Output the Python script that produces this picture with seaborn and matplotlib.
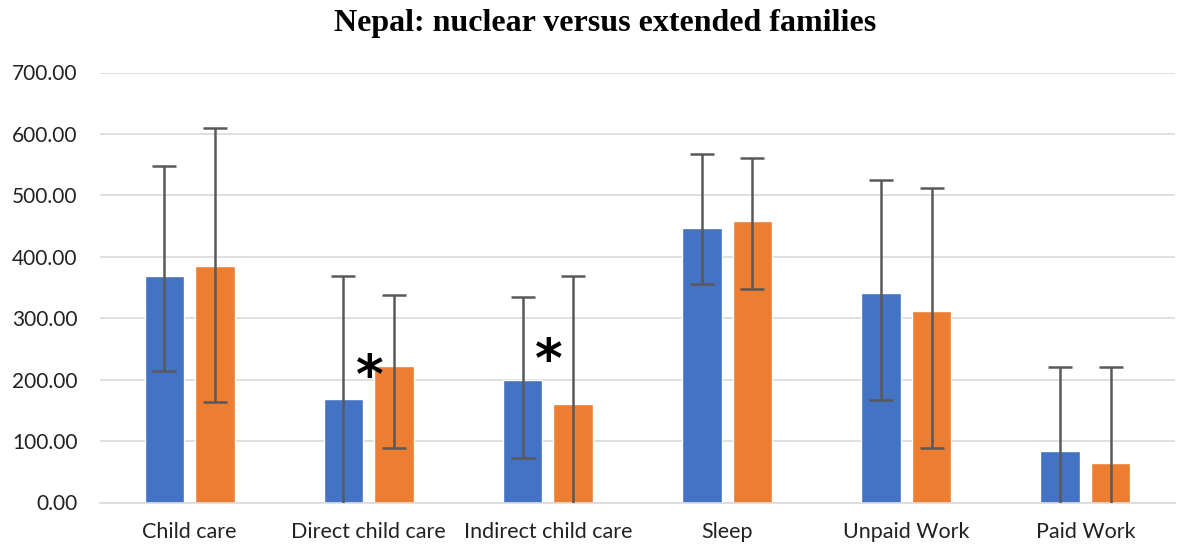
import pandas as pd
import numpy as np
import matplotlib
matplotlib.use("Agg")
import matplotlib.pyplot as plt
import seaborn as sns

# values (minutes)
categories = ["Child care", "Direct child care", "Indirect child care",
              "Sleep", "Unpaid Work", "Paid Work"]
groups = ["Nuclear", "Extended"]
nuclear = [369, 168, 199, 447, 341, 84]
extended = [385, 222, 160, 459, 312, 65]
# error bar ends (lower ends below zero are clipped by the axis)
nuclear_hi = [547, 369, 335, 567, 525, 221]
nuclear_lo = [214, -32, 73, 356, 167, -53]
extended_hi = [609, 338, 368, 561, 512, 221]
extended_lo = [163, 88, -48, 347, 89, -91]
# significance marks
star_cats = [1, 2]
star_y = [203, 228]

colors = ["#4472C4", "#ED7D31"]

df = pd.DataFrame({
    "category": categories * 2,
    "group": [groups[0]] * len(categories) + [groups[1]] * len(categories),
    "minutes": nuclear + extended,
})

sns.set_theme(style="white")
plt.rcParams["font.family"] = ["Lato", "DejaVu Sans"]

fig = plt.figure(figsize=(11.84, 5.47), dpi=100)
ax = fig.add_axes([100 / 1184, 1 - 502.5 / 547, 1075 / 1184, 430 / 547])

sns.barplot(data=df, x="category", y="minutes", hue="group", order=categories,
            hue_order=groups, palette=colors, width=0.564, gap=0.22,
            saturation=1, legend=False, ax=ax)

# asymmetric error bars at the bar centres
ends = [(nuclear, nuclear_lo, nuclear_hi), (extended, extended_lo, extended_hi)]
for cont, (vals, lo, hi) in zip(ax.containers, ends):
    xs = [b.get_x() + b.get_width() / 2 for b in cont]
    vals = np.array(vals)
    yerr = [vals - np.array(lo), np.array(hi) - vals]
    ax.errorbar(xs, vals, yerr=yerr, fmt="none", ecolor="#595959",
                elinewidth=1.8, capsize=8.5, capthick=1.8, zorder=3)

for c, y in zip(star_cats, star_y):
    ax.text(c + 0.005, y, "*", ha="center", va="center", fontsize=38,
            fontweight="bold", family="DejaVu Sans", color="black")

ax.set_ylim(0, 700)
ax.set_xlim(-0.5, len(categories) - 0.5)
ax.set_yticks(range(0, 701, 100))
ax.yaxis.set_major_formatter(matplotlib.ticker.StrMethodFormatter("{x:.2f}"))
ax.grid(axis="y", color="#d9d9d9", linewidth=1.2)
ax.set_axisbelow(True)
for s in ["top", "right", "left"]:
    ax.spines[s].set_visible(False)
ax.spines["bottom"].set_color("#d9d9d9")
ax.spines["bottom"].set_linewidth(1.2)
ax.tick_params(axis="y", length=0, pad=16, labelsize=15, labelcolor="#222222")
ax.tick_params(axis="x", length=0, pad=14, labelsize=15.5, labelcolor="#222222")
ax.set_xlabel("")
ax.set_ylabel("")

fig.text(605 / 1184, 1 - 23 / 547, "Nepal: nuclear versus extended families",
         ha="center", va="center", fontsize=23, fontweight="bold",
         family="Liberation Serif", color="black")

fig.savefig("out.png", dpi=100)
